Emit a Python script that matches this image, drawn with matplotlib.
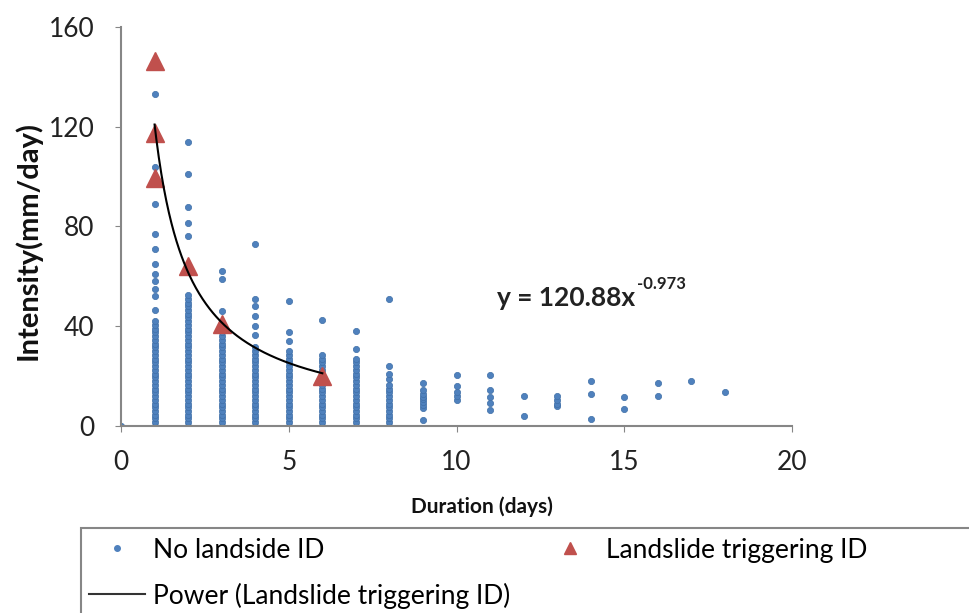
import numpy as np
import matplotlib
matplotlib.use('Agg')
import matplotlib.pyplot as plt
from matplotlib.lines import Line2D
from matplotlib.patches import Rectangle

plt.rcParams['font.family'] = ['Lato', 'DejaVu Sans']

# no-landslide rainfall events, one list per duration (days)
durations = [0, 1, 2, 3, 4, 5, 6, 7, 8, 9, 10, 11, 12, 13, 14, 15, 16, 17, 18]
d0 = [0]
d1 = [0, 1.5, 3, 4.5, 6, 7.5, 9, 10.5, 12, 13.5, 15, 16.5, 18, 19.5, 21, 22.5, 24, 25.5,
      27, 28.5, 30, 31.5, 33, 34.5, 36, 37.5, 39, 40.5, 42,
      46.5, 52, 55, 58, 61, 65, 71, 77, 89, 98, 104, 133]
d2 = [0, 1.5, 3, 4.5, 6, 7.5, 9, 10.5, 12, 13.5, 15, 16.5, 18, 19.5, 21, 22.5, 24, 25.5,
      27, 28.5, 30, 31.5, 33, 34.5, 36, 37.5, 39, 40.5, 42, 43.5, 45, 46.5, 48, 49.5, 51, 52.5,
      64, 76, 81.5, 88, 101, 114]
d3 = [0, 1.5, 3, 4.5, 6, 7.5, 9, 10.5, 12, 13.5, 15, 16.5, 18, 19.5, 21, 22.5, 24, 25.5,
      27, 28.5, 30, 31.5, 33, 34.5, 36, 37.5, 39, 40, 46, 59, 62]
d4 = [0, 1.5, 3, 4.5, 6, 7.5, 9, 10.5, 12, 13.5, 15, 16.5, 18, 19.5, 21, 22.5, 24, 25.5,
      27, 28.5, 30, 31.5, 36.5, 40, 44, 48, 51, 73]
d5 = [0, 1.5, 3, 4.5, 6, 7.5, 9, 10.5, 12, 13.5, 15, 16.5, 18, 19.5, 21, 22.5, 24, 25.5,
      27, 28.5, 30, 34, 37.5, 50]
d6 = [0, 1.5, 3, 4.5, 6, 7.5, 9, 10.5, 12, 13.5, 15, 16.5, 18, 19.5, 21, 22.5, 24, 25.5,
      27, 28.5, 42.5]
d7 = [0, 1.5, 3, 4.5, 6, 7.5, 9, 10.5, 12, 13.5, 15, 16.5, 18, 19.5, 21, 22.5, 24, 25.5,
      27, 31, 38]
d8 = [0, 1.5, 3, 4.5, 6, 7.5, 9, 10.5, 12, 13.5, 15, 16.5, 19, 21, 24, 51]
d9 = [2.4, 7.1, 8.4, 9.8, 11, 11.8, 13, 14.4, 17.1]
d10 = [10.4, 12, 13.8, 16, 20.4]
d11 = [6.4, 9.1, 11.8, 14.4, 20.4]
d12 = [4, 12]
d13 = [8, 9, 10.5, 12]
d14 = [2.7, 12.7, 18]
d15 = [7, 11.5]
d16 = [12.2, 17.1]
d17 = [18.2]
d18 = [13.6]
intensities = [d0, d1, d2, d3, d4, d5, d6, d7, d8, d9, d10, d11, d12, d13, d14, d15, d16, d17, d18]

# landslide triggering events
ls_duration = [1, 1, 1, 2, 3, 6]
ls_intensity = [146.5, 117.5, 99.5, 64, 41, 20]

# power trend line y = a * x^b
fit_a = 120.88
fit_b = -0.973

blue = '#4F81BD'
red = '#C0504D'
grey = '#868686'

fig = plt.figure(figsize=(9.69, 6.13), dpi=100)
ax = fig.add_axes([0.1249, 0.3051, 0.6925, 0.6509])

for d, vals in zip(durations, intensities):
    ax.plot([d] * len(vals), vals, 'o', color=blue, mec='#3F6FA8', mew=0.5,
            ms=4.5, linestyle='none', zorder=2)

ax.plot(ls_duration, ls_intensity, '^', color=red, ms=13, mec=red,
        linestyle='none', zorder=3)

xf = np.linspace(1, 6, 200)
ax.plot(xf, fit_a * xf ** fit_b, color='black', lw=1.5, zorder=4)

ax.set_xlim(0, 20)
ax.set_ylim(0, 160)
ax.set_xticks([0, 5, 10, 15, 20])
ax.set_yticks([0, 40, 80, 120, 160])
for side in ['top', 'right']:
    ax.spines[side].set_visible(False)
for side in ['left', 'bottom']:
    ax.spines[side].set_color(grey)
    ax.spines[side].set_linewidth(1.5)
ax.tick_params(axis='both', direction='out', length=4, color=grey,
               labelsize=19, labelcolor='#222222')
ax.tick_params(axis='y', pad=15)
ax.tick_params(axis='x', pad=13)

fig.text(482 / 969, 1 - 507 / 613, 'Duration (days)', ha='center', va='center',
         fontsize=15, fontweight='bold', color='#111111')
fig.text(28 / 969, 1 - 240 / 613, 'Intensity(mm/day)', ha='center', va='center',
         rotation=90, fontsize=21, fontweight='bold', color='#111111')

# trend line equation, exponent placed right after the main text
eq = fig.text(497 / 969, 1 - 298 / 613, 'y = 120.88x', ha='left', va='center',
              fontsize=19, fontweight='bold', color='#222222')
ax.annotate('-0.973', xy=(1, 0.75), xycoords=eq, xytext=(1, 0), textcoords='offset points',
            ha='left', va='bottom', fontsize=12, fontweight='bold', color='#222222')

# legend box, open at the right and bottom like the cropped original
fig.add_artist(Rectangle((81 / 969, -0.05), 1.0, 0.05 + (613 - 528) / 613,
                         transform=fig.transFigure, fill=False,
                         edgecolor=grey, lw=1.5))

handles = [
    Line2D([], [], marker='o', color=blue, ms=4, linestyle='none'),
    Line2D([], [], color='#333333', lw=1.5),
    Line2D([], [], marker='^', color=red, ms=8, linestyle='none'),
]
labels = ['No landside ID', 'Power (Landslide triggering ID)', 'Landslide triggering ID']
fig.legend(handles, labels, loc='upper left', bbox_to_anchor=(86 / 969, 1 - 535 / 613),
           ncol=2, frameon=False, fontsize=19, handlelength=2.15, handletextpad=0.3,
           columnspacing=1.17, labelspacing=0.75, borderpad=0.1, borderaxespad=0)

fig.savefig('out.png', dpi=100)
